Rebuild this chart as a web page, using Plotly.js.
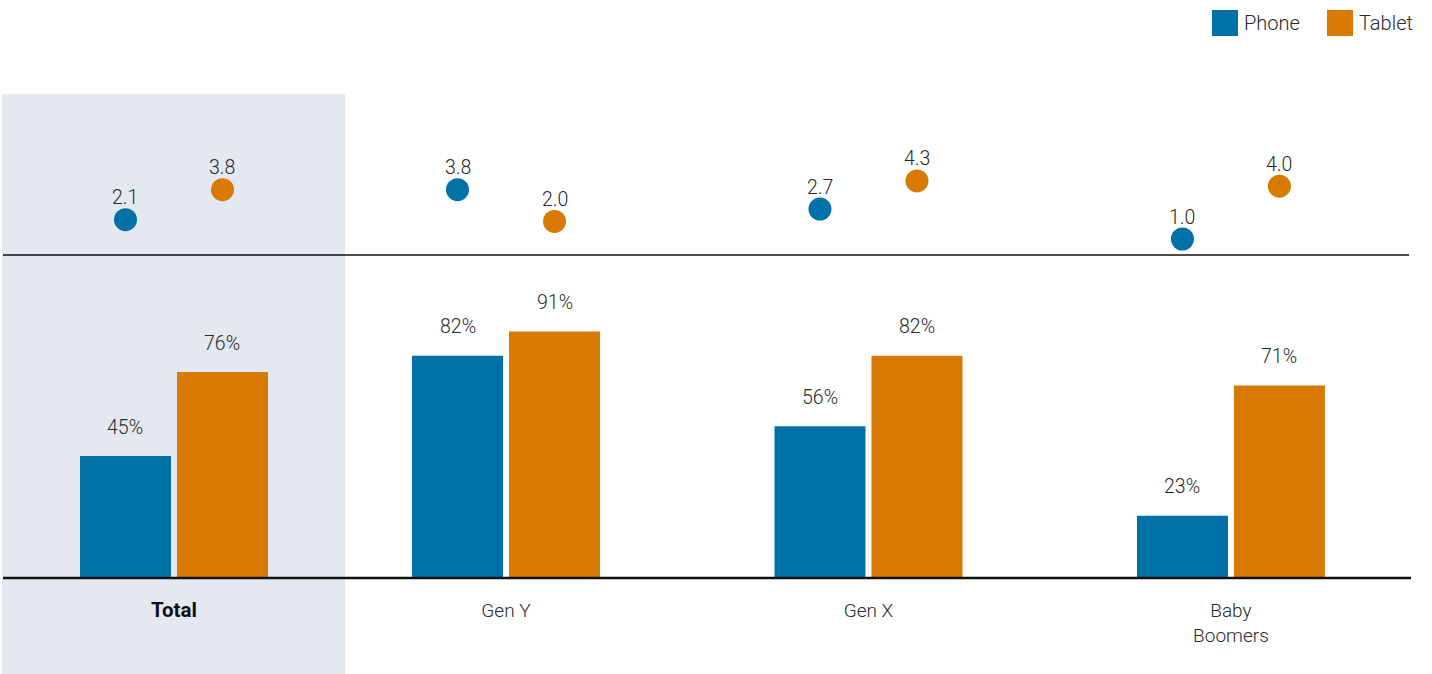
<!DOCTYPE html>
<html><head><meta charset="utf-8">
<script src="https://cdn.plot.ly/plotly-3.0.1.min.js"></script>
<style>html,body{margin:0;padding:0;background:#fff}#chart{width:1432px;height:674px}</style>
</head><body><div id="chart"></div>
<script>
// ---- data ----
const categories = ['Total', 'Gen Y', 'Gen X', 'Baby Boomers'];
const tickLabels = ['<span style="font-weight:bold;font-size:20.5px;fill:#111">Total</span>', 'Gen Y', 'Gen X', 'Baby<br>Boomers'];
const seriesNames = ['Phone', 'Tablet'];
const phoneShare = [45, 82, 56, 23];
const tabletShare = [76, 91, 82, 71];
const phoneScore = [2.1, 3.8, 2.7, 1.0];
const tabletScore = [3.8, 2.0, 4.3, 4.0];

// ---- layout / style ----
const W = 1432, H = 674;
const M = {l: 0, r: 22, t: 94, b: 96};
const plotW = W - M.l - M.r, plotH = H - M.t - M.b;
const catPos = [0.084, 1, 2, 3];
const off = 0.1338, bw = 0.251;
const blue = '#0071a7', orange = '#d97a00', shade = '#e3e8f1', txt = '#2a2a2a';
const FONT = 'Roboto, "Open Sans", sans-serif';
const split = (578 - 255) / plotH; // domain boundary between bars and dots
const px2x = p => (p - M.l) / plotW;
const py2y = p => (H - M.b - p) / plotH;

const phoneX = catPos.map(p => p - off);
const tabletX = catPos.map(p => p + off);

const traces = [
  {type: 'bar', name: seriesNames[0], x: phoneX, y: phoneShare, width: bw,
   marker: {color: blue}, yaxis: 'y', showlegend: false, hoverinfo: 'skip'},
  {type: 'bar', name: seriesNames[1], x: tabletX, y: tabletShare, width: bw,
   marker: {color: orange}, yaxis: 'y', showlegend: false, hoverinfo: 'skip'},
  {type: 'scatter', mode: 'markers', name: seriesNames[0], x: phoneX, y: phoneScore,
   marker: {color: blue, size: 23}, yaxis: 'y2', showlegend: false, hoverinfo: 'skip'},
  {type: 'scatter', mode: 'markers', name: seriesNames[1], x: tabletX, y: tabletScore,
   marker: {color: orange, size: 23}, yaxis: 'y2', showlegend: false, hoverinfo: 'skip'}
];

const lblFont = {family: FONT, size: 19.5, color: txt, weight: 300};
const annotations = [];
phoneShare.forEach((v, i) => annotations.push({x: phoneX[i], y: v, xref: 'x', yref: 'y', text: v + '%', showarrow: false, yshift: 29, yanchor: 'middle', font: lblFont}));
tabletShare.forEach((v, i) => annotations.push({x: tabletX[i], y: v, xref: 'x', yref: 'y', text: v + '%', showarrow: false, yshift: 29, yanchor: 'middle', font: lblFont}));
phoneScore.forEach((v, i) => annotations.push({x: phoneX[i], y: v, xref: 'x', yref: 'y2', text: v.toFixed(1), showarrow: false, yshift: 22, yanchor: 'middle', font: lblFont}));
tabletScore.forEach((v, i) => annotations.push({x: tabletX[i], y: v, xref: 'x', yref: 'y2', text: v.toFixed(1), showarrow: false, yshift: 22, yanchor: 'middle', font: lblFont}));
// legend
const legItems = [{sq: [1212, 1238], tx: 1242, color: blue, name: seriesNames[0]},
                  {sq: [1327, 1353], tx: 1357, color: orange, name: seriesNames[1]}];
const shapes = [
  {type: 'rect', xref: 'paper', yref: 'paper', x0: px2x(2), x1: px2x(345), y0: py2y(674), y1: py2y(94),
   fillcolor: shade, line: {width: 0}, layer: 'below'},
  {type: 'line', xref: 'paper', yref: 'paper', x0: px2x(3), x1: px2x(1409), y0: split, y1: split,
   line: {color: '#111', width: 1.3}, layer: 'above'},
  {type: 'line', xref: 'paper', yref: 'paper', x0: px2x(3), x1: px2x(1411), y0: 0, y1: 0,
   line: {color: '#111', width: 2.6}, layer: 'above'}
];
legItems.forEach(it => {
  shapes.push({type: 'rect', xref: 'paper', yref: 'paper', x0: px2x(it.sq[0]), x1: px2x(it.sq[1]),
    y0: py2y(36), y1: py2y(10), fillcolor: it.color, line: {width: 0}});
  annotations.push({xref: 'paper', yref: 'paper', x: px2x(it.tx), y: py2y(23), xanchor: 'left', yanchor: 'middle',
    text: it.name, showarrow: false, font: {family: FONT, size: 20, color: txt, weight: 300}});
});

const layout = {
  width: W, height: H, margin: M,
  paper_bgcolor: '#ffffff', plot_bgcolor: 'rgba(0,0,0,0)',
  showlegend: false,
  font: {family: FONT, color: txt},
  xaxis: {range: [-0.396, 3.494], tickvals: catPos, ticktext: tickLabels,
    tickfont: {family: FONT, size: 19, color: txt, weight: 300},
    showgrid: false, zeroline: false, showline: false, ticks: '', ticklabelstandoff: 19, fixedrange: true},
  yaxis: {domain: [0, split], range: [0, 323 / 2.71], visible: false, fixedrange: true},
  yaxis2: {domain: [split, 1], range: [0.091, 9.239], visible: false, fixedrange: true},
  shapes: shapes,
  annotations: annotations
};
Plotly.newPlot('chart', traces, layout, {displayModeBar: false, staticPlot: true});
</script></body></html>
